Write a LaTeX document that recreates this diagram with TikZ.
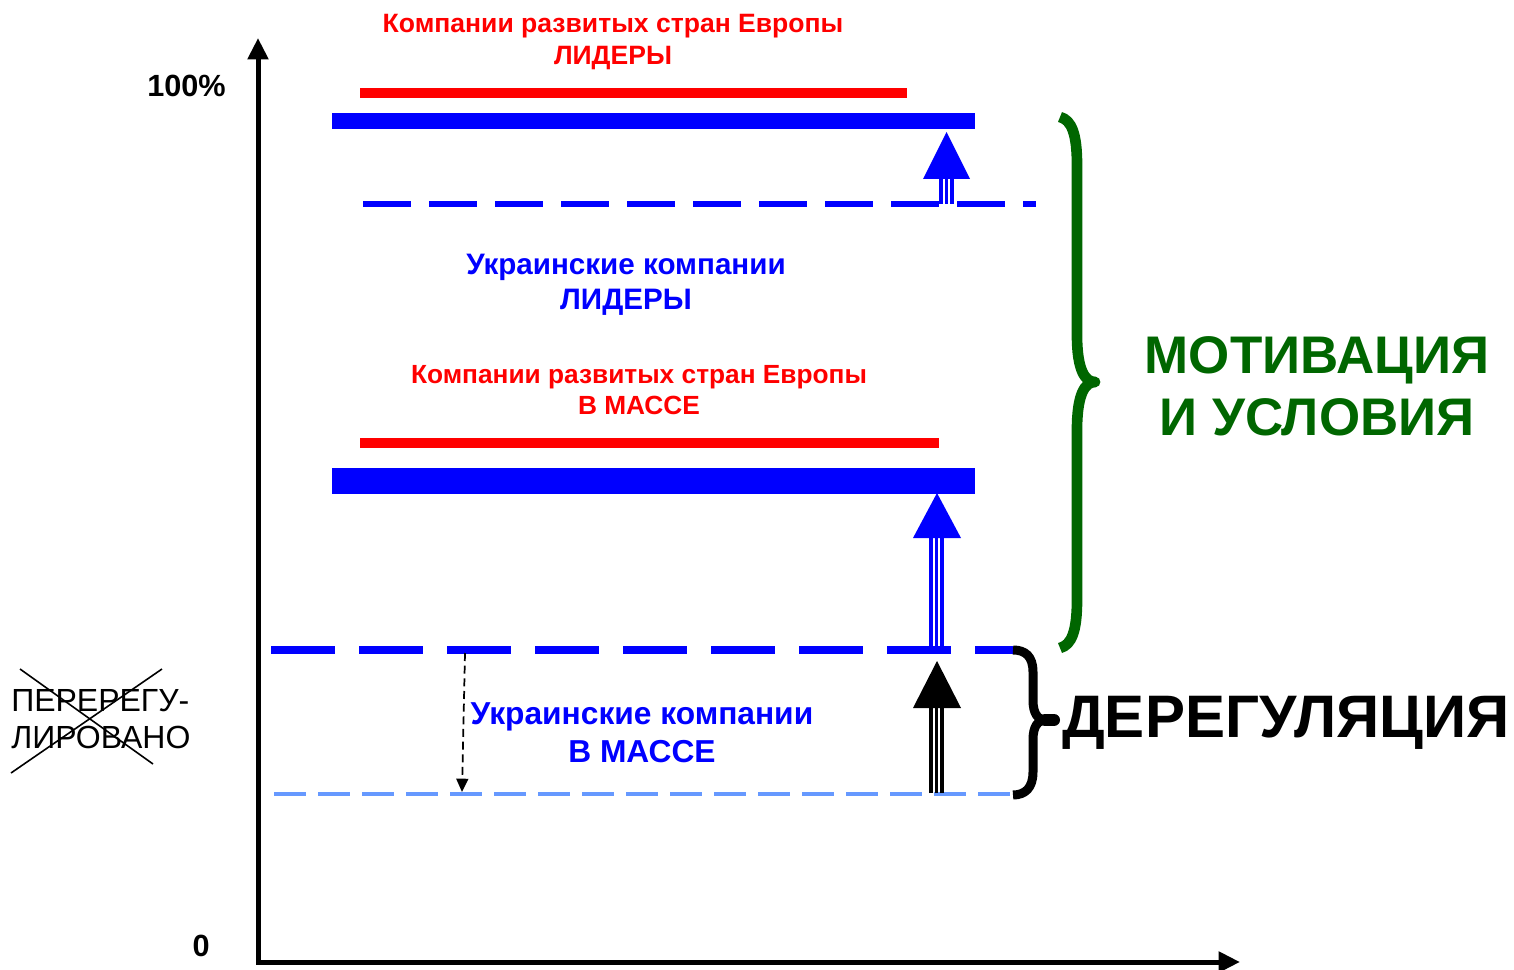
\documentclass[tikz,border=0pt]{standalone}
\usepackage{fontspec}
\setmainfont{Liberation Sans}
\usetikzlibrary{arrows.meta}
\definecolor{myblue}{RGB}{0,0,255}
\definecolor{myred}{RGB}{255,0,0}
\definecolor{mygreen}{RGB}{0,102,0}
\definecolor{lightblue}{RGB}{102,153,255}
\tikzset{
  axis/.style={line width=3.75pt, -{Triangle[width=15pt,length=16pt]}},
  redbar/.style={myred, line width=7.5pt},
  bluebar/.style={myblue, line width=#1},
  updash/.style={myblue, line width=4.5pt, dash pattern=on 36pt off 13.5pt},
  lowdash/.style={myblue, line width=6pt, dash pattern=on 48pt off 18pt},
  lightdash/.style={lightblue, line width=2.6pt, dash pattern=on 24pt off 9pt},
  shaft/.style={line width=2.6pt},
  lbl/.style={inner sep=0pt, align=center, font=\bfseries},
}
\begin{document}
\begin{tikzpicture}[x=0.75pt,y=-0.75pt]
\useasboundingbox (0,0) rectangle (1514,970);
% axes
\coordinate (O) at (258,962);
\coordinate (Ytop) at (258,38);
\coordinate (Xend) at (1240,962);
\draw[axis] (258,964) -- (Ytop);
\draw[axis] (256,962) -- (Xend);
\node[lbl, anchor=east, font=\bfseries\fontsize{23}{27}\selectfont] (p100) at (226,86) {100\%};
\node[lbl, anchor=east, font=\bfseries\fontsize{23}{27}\selectfont] (p0) at (210,946) {0};

% top group
\coordinate (r1a) at (360,93); \coordinate (r1b) at (907,93);
\draw[redbar] (r1a) -- (r1b);
\coordinate (b1a) at (332,121); \coordinate (b1b) at (975,121);
\draw[bluebar=12pt] (b1a) -- (b1b);
\coordinate (d1a) at (363,204); \coordinate (d1b) at (1036,204);
\draw[updash] (d1a) -- (d1b);

% middle group
\coordinate (r2a) at (360,443); \coordinate (r2b) at (939,443);
\draw[redbar] (r2a) -- (r2b);
\coordinate (b2a) at (332,481); \coordinate (b2b) at (975,481);
\draw[bluebar=19pt] (b2a) -- (b2b);
\coordinate (d2a) at (271,650); \coordinate (d2b) at (1013,650);
\draw[lowdash] (d2a) -- (d2b);
\coordinate (d3a) at (274,794); \coordinate (d3b) at (1012,794);
\draw[lightdash] (d3a) -- (d3b);

% dashed small arrow
\coordinate (sa) at (465,653); \coordinate (sb) at (462,792);
\draw[line width=1.3pt, dash pattern=on 6pt off 3.5pt, -{Triangle[width=9pt,length=10pt]}] (sa) -- (sb);

% top blue arrow
\foreach \dx in {-5.5,0,5.5} \draw[myblue, shaft] (946.5+\dx,204) -- (946.5+\dx,178);
\fill[myblue] (946.5,132) -- (923,179) -- (970,179) -- cycle;
% middle blue arrow
\foreach \dx in {-5.5,0,5.5} \draw[myblue, shaft] (936.5+\dx,652) -- (936.5+\dx,537);
\fill[myblue] (937,493) -- (913,538) -- (961,538) -- cycle;
% black arrow
\foreach \dx in {-5.5,0,5.5} \draw[black, shaft] (936.5+\dx,793) -- (936.5+\dx,707);
\fill[black] (937,661) -- (913,708) -- (961,708) -- cycle;

% green brace
\draw[mygreen, line width=8pt, line join=round] (1060,117) .. controls (1072,120) and (1077,135) .. (1077,165) -- (1077,335) .. controls (1077,370) and (1085,382) .. (1095,382) .. controls (1085,382) and (1077,394) .. (1077,430) -- (1077,600) .. controls (1077,630) and (1072,645) .. (1060,648);
% black brace
\draw[black, line width=6.75pt, line join=round] (1013,650) .. controls (1025,650) and (1033,656) .. (1033,672) -- (1033,700) .. controls (1033,714) and (1038,720) .. (1046,720) .. controls (1038,720) and (1033,726) .. (1033,740) -- (1033,772) .. controls (1033,788) and (1025,795) .. (1013,795);
\draw[black, line width=9pt, line cap=round] (1045,720) -- (1054,720);

% labels
\node[lbl, myred, font=\bfseries\fontsize{19.9}{24}\selectfont] (t1) at (613,42.5) {Компании развитых стран Европы\\ЛИДЕРЫ};
\node[lbl, myblue, font=\bfseries\fontsize{22.2}{26.3}\selectfont] (t2) at (626,284.5) {Украинские компании\\ЛИДЕРЫ};
\node[lbl, myred, font=\bfseries\fontsize{19.7}{23.3}\selectfont] (t3) at (639,390.5) {Компании развитых стран Европы\\В МАССЕ};
\node[lbl, myblue, font=\bfseries\fontsize{23.8}{28.5}\selectfont] (t4) at (642,732.5) {Украинские компании\\В МАССЕ};
\node[lbl, mygreen, font=\bfseries\fontsize{39.7}{46.5}\selectfont] (t5) at (1317,386) {МОТИВАЦИЯ\\И УСЛОВИЯ};
\node[lbl, anchor=west, font=\bfseries\fontsize{45}{52}\selectfont] (t6) at (1062,723) {ДЕРЕГУЛЯЦИЯ};
\node[inner sep=0pt, align=left, anchor=west, font=\fontsize{24}{27.75}\selectfont] (t7) at (11,719.5) {ПЕРЕРЕГУ-\\ЛИРОВАНО};
\draw[line width=1.2pt] (20,669) -- (153,764);
\draw[line width=1.2pt] (162,669) -- (11,773);
\end{tikzpicture}
\end{document}
